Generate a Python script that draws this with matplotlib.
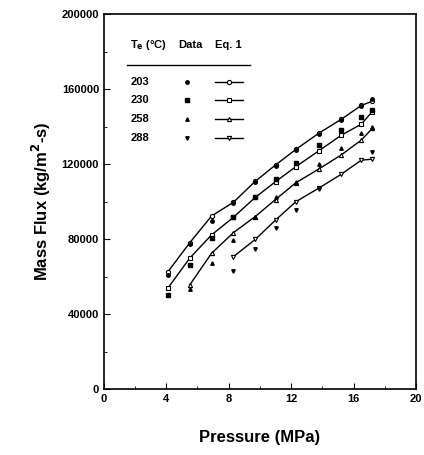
import matplotlib
matplotlib.use("Agg")
from matplotlib import pyplot as plt
from matplotlib.ticker import MultipleLocator
import numpy as np

plt.rcParams['font.family'] = ['Liberation Sans', 'DejaVu Sans']
plt.rcParams['font.weight'] = 'bold'

# pressures (MPa)
p_all = [4.1, 5.5, 6.9, 8.3, 9.7, 11.0, 12.3, 13.8, 15.2, 16.5, 17.2]

# Eq. 1 curves (kg/m2-s)
eq_203 = [62500, 78000, 92300, 99600, 110800, 119500, 127800, 136600, 143800, 151300, 153500]
eq_230 = [53800, 69800, 82200, 91600, 102200, 110600, 118600, 127200, 135300, 141300, 148000]
eq_258_p = p_all[1:]
eq_258 = [55500, 72400, 83400, 92000, 101100, 110000, 117500, 124800, 132800, 139000]
eq_288_p = p_all[3:]
eq_288 = [70600, 79800, 90100, 99900, 107300, 114500, 122100, 122600]

# measured data
data_203 = [61000, 77500, 89500, 99500, 110500, 119000, 127500, 136000, 143500, 151000, 154500]
data_230 = [50100, 66100, 80400, 91500, 102200, 111800, 120700, 130300, 138300, 145200, 148800]
data_258 = [53200, 67400, 79500, 92000, 102200, 110600, 119800, 128800, 136400, 139900]
data_288_p = [8.3, 9.7, 11.0, 12.3, 13.8, 17.2]
data_288 = [62900, 74700, 85700, 95500, 106500, 126600]

temps = ['203', '230', '258', '288']
data_mk = ['o', 's', '^', 'v']
eq_mk = ['o', 's', '^', 'v']

fig = plt.figure(figsize=(4.24, 4.55), dpi=100)
ax = fig.add_axes([0.245, 0.145, 0.736, 0.824])

series = [
    (p_all, eq_203, p_all, data_203),
    (p_all, eq_230, p_all, data_230),
    (eq_258_p, eq_258, eq_258_p, data_258),
    (eq_288_p, eq_288, data_288_p, data_288),
]
for i, (pe, ye, pd, yd) in enumerate(series):
    ax.plot(pe, ye, '-', color='black', lw=1.0, marker=eq_mk[i], ms=3.0,
            mfc='white', mec='black', mew=0.8)
    ax.plot(pd, yd, linestyle='none', marker=data_mk[i], ms=2.5,
            color='black')

ax.set_xlim(0, 20)
ax.set_ylim(0, 200000)
ax.xaxis.set_major_locator(MultipleLocator(4))
ax.xaxis.set_minor_locator(MultipleLocator(2))
ax.yaxis.set_major_locator(MultipleLocator(40000))
ax.yaxis.set_minor_locator(MultipleLocator(20000))
ax.tick_params(which='both', direction='in', labelsize=8)
ax.tick_params(which='major', length=4)
ax.tick_params(which='minor', length=2)
for sp in ax.spines.values():
    sp.set_linewidth(1.2)

ax.set_xlabel('Pressure (MPa)', fontsize=12, fontweight='bold', labelpad=19)
ax.set_ylabel('Mass Flux (kg/m$^\\mathbf{2}$-s)', fontsize=12, fontweight='bold', labelpad=6)

# table-style legend
tr = ax.transAxes
ax.text(0.083, 0.917, 'T$_\\mathbf{e}$ (\u00b0C)', transform=tr, fontsize=8, fontweight='bold', va='center')
ax.text(0.237, 0.917, 'Data', transform=tr, fontsize=8, fontweight='bold', va='center')
ax.text(0.355, 0.917, 'Eq. 1', transform=tr, fontsize=8, fontweight='bold', va='center')
ax.plot([0.074, 0.468], [0.865, 0.865], transform=tr, color='black', lw=1.0)
rows_y = [0.82, 0.77, 0.72, 0.67]
for i, t in enumerate(temps):
    yy = rows_y[i]
    ax.text(0.087, yy, t, transform=tr, fontsize=8, fontweight='bold', va='center')
    ax.plot([0.266], [yy], transform=tr, linestyle='none', marker=data_mk[i], ms=2.5, color='black')
    ax.plot([0.356, 0.445], [yy, yy], transform=tr, color='black', lw=1.0)
    ax.plot([0.4], [yy], transform=tr, linestyle='none', marker=eq_mk[i], ms=3.0,
            mfc='white', mec='black', mew=0.8)

fig.savefig('out.png', dpi=100)
